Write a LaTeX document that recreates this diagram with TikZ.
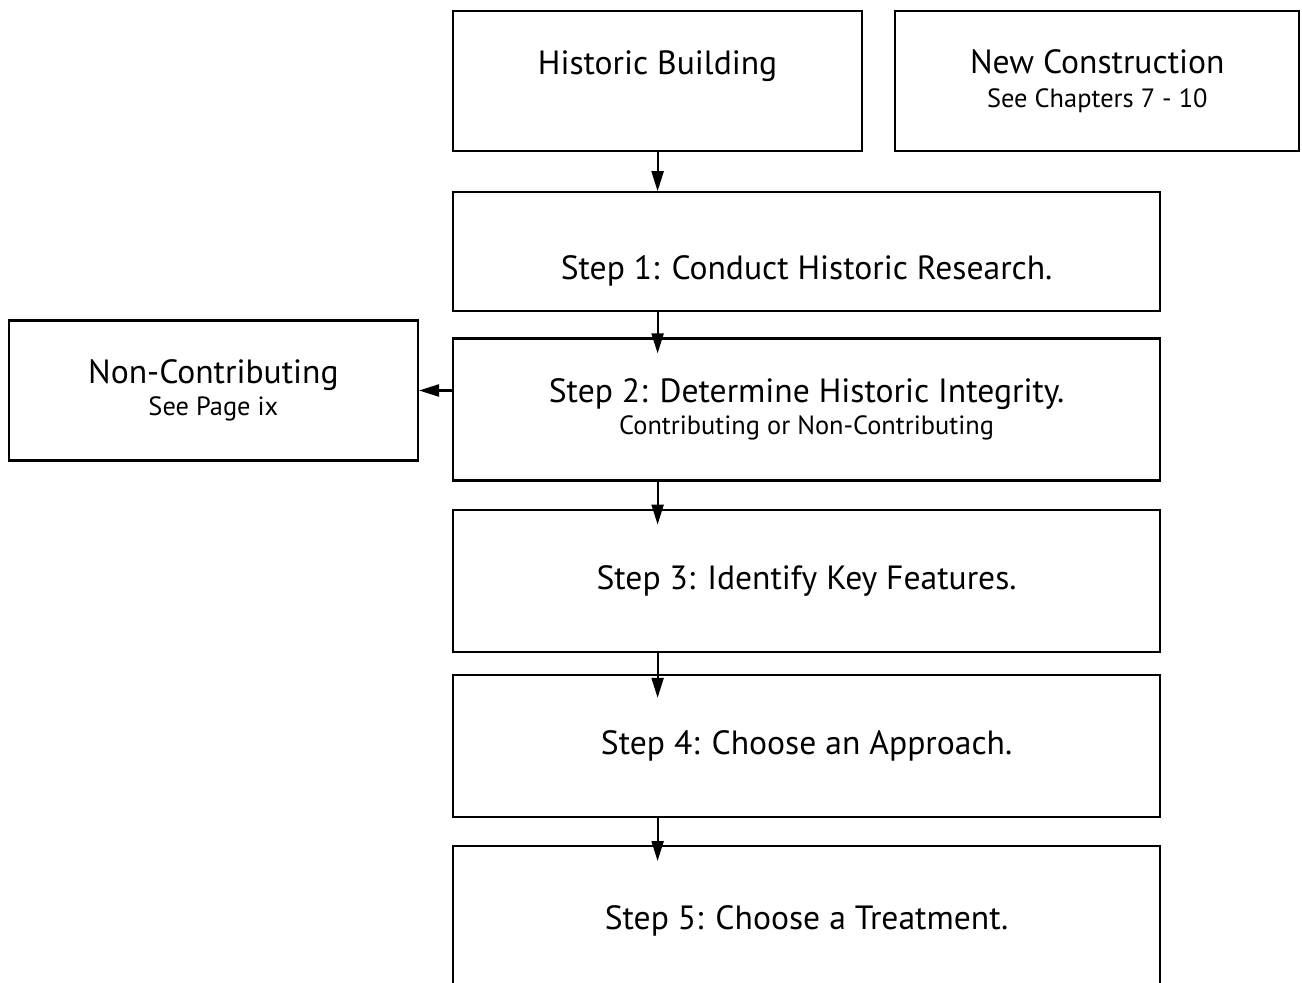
\documentclass[tikz,border=0pt]{standalone}
\usepackage{fontspec}
\setmainfont{PT Sans}
\usetikzlibrary{positioning,arrows.meta}
\newcommand{\mainsize}{\fontsize{16.8}{18}\selectfont}
\newcommand{\subsize}{\fontsize{13.2}{16}\selectfont}
\tikzset{flowbox/.style={rectangle,draw=black,fill=white,line width=1.1pt,align=center,font=\mainsize,minimum width=353.5pt}}
\tikzset{sidebox/.style={flowbox,minimum width=204.5pt,minimum height=70pt}}
\tikzset{toArrow/.style={-{Triangle[width=6pt,length=10pt]},line width=1.1pt}}
\tikzset{intoArrow/.style={toArrow,shorten >=-8pt}}

\begin{document}
\begin{tikzpicture}
\useasboundingbox (0,0) rectangle (651pt,-491.5pt);
\node (hb) [sidebox, anchor=north west] at (226pt,-5pt) {Historic Building\\[-2pt]{\subsize\vphantom{Cp}}} ;
\node (nc) [sidebox, minimum width=202pt, right=15.5pt of hb] {New Construction\\[-1pt]{\subsize See Chapters 7 - 10}} ;
\node (s1) [flowbox, minimum height=59.5pt, below right=19.5pt and 0pt of hb.south west] {{\subsize\vphantom{Cp}}\\[4pt]Step 1: Conduct Historic Research.} ;
\node (s2) [flowbox, minimum height=71pt, below=12.5pt of s1] {Step 2: Determine Historic Integrity.\\[-2pt]{\subsize Contributing or Non-Contributing}} ;
\node (s3) [flowbox, minimum height=71pt, below=13.5pt of s2] {Step 3: Identify Key Features.} ;
\node (s4) [flowbox, minimum height=71pt, below=10.5pt of s3] {Step 4: Choose an Approach.} ;
\node (s5) [flowbox, minimum height=75pt, below=13.5pt of s4] {Step 5: Choose a Treatment.} ;
\node (ncb) [sidebox, left=16.5pt of s2, yshift=9.5pt] {Non-Contributing\\[-2pt]{\subsize See Page ix}} ;
\draw [toArrow] (hb.south) -- (hb.south |- s1.north) ;
\draw [intoArrow] (hb.south |- s1.south) -- (hb.south |- s2.north) ;
\draw [intoArrow] (hb.south |- s2.south) -- (hb.south |- s3.north) ;
\draw [intoArrow, shorten >=-12pt] (hb.south |- s3.south) -- (hb.south |- s4.north) ;
\draw [intoArrow] (hb.south |- s4.south) -- (hb.south |- s5.north) ;
\draw [toArrow] (s2.west |- ncb) -- (ncb.east) ;
\end{tikzpicture}
\end{document}
